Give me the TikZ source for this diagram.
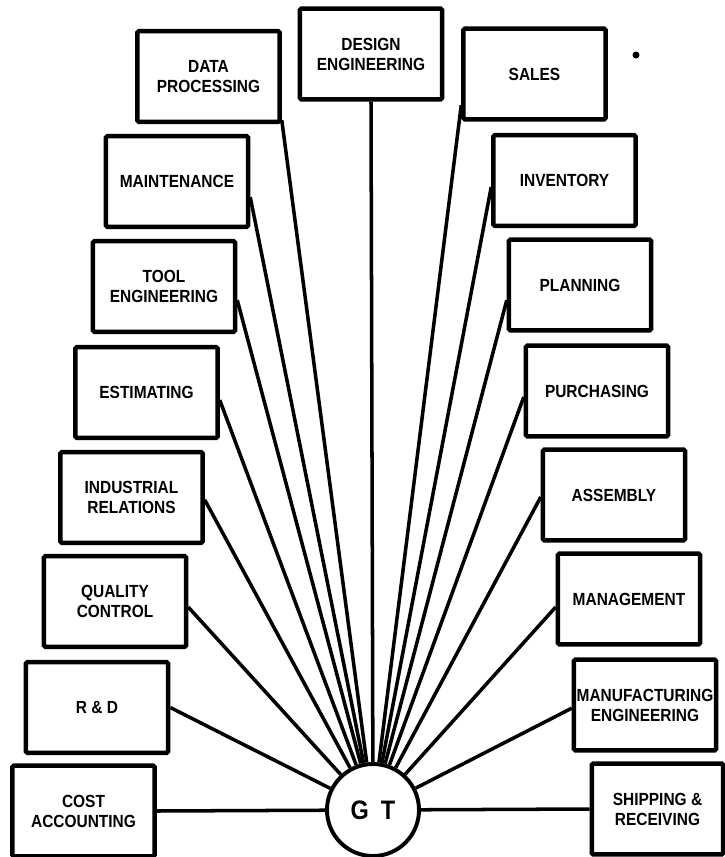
\documentclass[tikz,border=0pt]{standalone}
\usepackage{fontspec}
\newfontfamily\boxfont{Liberation Sans}[FakeStretch=0.88]
\usepackage{tikz}

\tikzset{
  dept/.style={draw, line width=3.2pt, rounded corners=1pt, minimum width=3.55cm,
    minimum height=2.27cm, inner sep=1pt, align=center,
    font=\boxfont\bfseries\fontsize{12.5}{14.2}\selectfont},
  link/.style={line width=2.5pt},
  hub/.style={draw, circle, line width=2.8pt, minimum size=2.3cm, inner sep=0pt,
    font=\boxfont\bfseries\fontsize{19}{22}\selectfont}
}

\begin{document}
\begin{tikzpicture}[x=0.025cm, y=-0.025cm]
  \useasboundingbox (0,0) rectangle (725,857);

  % centre
  \node[hub] (gt) at (373,810) {G\hspace{0.3cm}T};

  % top row
  \node[dept] (dp)  at (208.5,76.5) {DATA\\PROCESSING};
  \node[dept] (de)  at (371,54)     {DESIGN\\ENGINEERING};
  \node[dept] (sal) at (534.5,74)   {SALES};

  % left column
  \node[dept] (mnt)  at (177,181.5)  {MAINTENANCE};
  \node[dept] (tool) at (164,286.5)  {TOOL\\ENGINEERING};
  \node[dept] (est)  at (146.5,392.5) {ESTIMATING};
  \node[dept] (ind)  at (131.5,497.5) {INDUSTRIAL\\RELATIONS};
  \node[dept] (qc)   at (115,601.5)  {QUALITY\\CONTROL};
  \node[dept] (rd)   at (97,707.5)   {R \& D};
  \node[dept] (ca)   at (83.5,811)   {COST\\ACCOUNTING};

  % right column
  \node[dept] (inv) at (564.5,180.5) {INVENTORY};
  \node[dept] (pln) at (580,285)     {PLANNING};
  \node[dept] (pur) at (597,391)     {PURCHASING};
  \node[dept] (asm) at (614,495)     {ASSEMBLY};
  \node[dept] (mgt) at (629,599)     {MANAGEMENT};
  \node[dept] (mfg) at (645,705)     {MANUFACTURING\\ENGINEERING};
  \node[dept, minimum width=3.28cm] (shp) at (657.5,809) {SHIPPING \&\\RECEIVING};

  % links to the centre
  \draw[link] ([yshift=0.1cm]dp.south east) -- (gt);
  \draw[link] (de.south) -- (gt);
  \draw[link] ([yshift=-0.78cm]sal.west) -- (gt);
  \draw[link] ([yshift=-0.39cm]mnt.east) -- (gt);
  \draw[link] ([yshift=-0.34cm]tool.east) -- (gt);
  \draw[link] ([yshift=-0.19cm]est.east) -- (gt);
  \draw[link] ([yshift=-0.06cm]ind.east) -- (gt);
  \draw[link] ([yshift=-0.14cm]qc.east) -- (gt);
  \draw[link] (rd.east) -- (gt);
  \draw[link] (ca.east) -- (gt);
  \draw[link] ([yshift=-0.16cm]inv.west) -- (gt);
  \draw[link] ([yshift=-0.38cm]pln.west) -- (gt);
  \draw[link] ([yshift=-0.15cm]pur.west) -- (gt);
  \draw[link] ([yshift=-0.05cm]asm.west) -- (gt);
  \draw[link] ([yshift=-0.2cm]mgt.west) -- (gt);
  \draw[link] ([yshift=-0.08cm]mfg.west) -- (gt);
  \draw[link] (shp.west) -- (gt);

  % stray mark
  \fill (636,55) circle (3.5);
\end{tikzpicture}
\end{document}
